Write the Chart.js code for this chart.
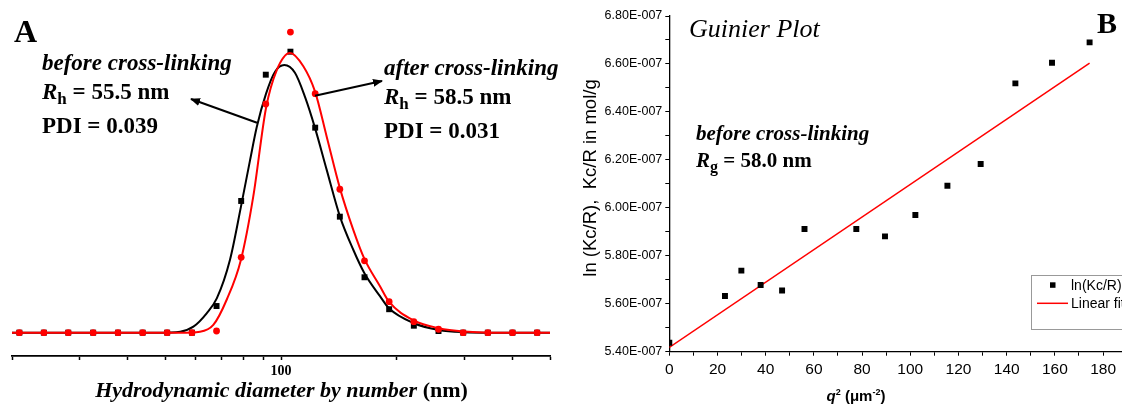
<!DOCTYPE html>
<html>
<head>
<meta charset="utf-8">
<script src="https://cdn.jsdelivr.net/npm/chart.js@4.4.1/dist/chart.umd.min.js"></script>
<style>
  html, body { margin: 0; padding: 0; background: #fff; }
  body { width: 1122px; height: 405px; overflow: hidden; position: relative; }
  #boxA { position: absolute; left: 0; top: 0; width: 560px; height: 405px; }
  #boxB { position: absolute; left: 560px; top: 0; width: 620px; height: 405px; }
  #notes { position: absolute; left: 0; top: 0; pointer-events: none; }
  .serif { font-family: "Liberation Serif", "Times New Roman", serif; }
  .sans { font-family: "Liberation Sans", Arial, sans-serif; }
</style>
</head>
<body>
<div id="boxA"><canvas id="chartA" width="560" height="405"></canvas></div>
<div id="boxB"><canvas id="chartB" width="620" height="405"></canvas></div>

<svg id="notes" width="1122" height="405" xmlns="http://www.w3.org/2000/svg">
  <defs>
    <marker id="head" viewBox="0 0 10 8" refX="9" refY="4" markerWidth="5" markerHeight="4" orient="auto" markerUnits="strokeWidth">
      <path d="M0,0 L10,4 L0,8 z" fill="#000"/>
    </marker>
  </defs>

  <!-- panel A -->
  <text class="serif" x="14" y="42" font-size="32" font-weight="bold">A</text>
  <g class="serif" font-size="23" font-weight="bold">
    <text x="42" y="70" font-style="italic">before cross-linking</text>
    <text x="42" y="99"><tspan font-style="italic">R</tspan><tspan dy="5" font-size="17">h</tspan><tspan dy="-5"> = 55.5 nm</tspan></text>
    <text x="42" y="133">PDI = 0.039</text>
    <text x="384" y="75" font-style="italic">after cross-linking</text>
    <text x="384" y="104"><tspan font-style="italic">R</tspan><tspan dy="5" font-size="17">h</tspan><tspan dy="-5"> = 58.5 nm</tspan></text>
    <text x="384" y="138">PDI = 0.031</text>
  </g>
  <line x1="257" y1="122.7" x2="191" y2="99" stroke="#000" stroke-width="2" marker-end="url(#head)"/>
  <line x1="315" y1="95.7" x2="382" y2="81" stroke="#000" stroke-width="2" marker-end="url(#head)"/>
  <text class="serif" x="281.5" y="397" font-size="22" font-weight="bold" text-anchor="middle"><tspan font-style="italic">Hydrodynamic diameter by number</tspan> (nm)</text>

  <!-- panel B -->
  <text class="serif" x="689" y="37" font-size="26" font-style="italic">Guinier Plot</text>
  <text class="serif" x="1097" y="33" font-size="30" font-weight="bold">B</text>
  <g class="serif" font-size="21" font-weight="bold">
    <text x="696" y="140" font-style="italic">before cross-linking</text>
    <text x="696" y="167"><tspan font-style="italic">R</tspan><tspan dy="5" font-size="16">g</tspan><tspan dy="-5"> = 58.0 nm</tspan></text>
  </g>
  <text class="sans" font-size="18.5" text-anchor="middle" style="white-space:pre"
        transform="translate(596,178) rotate(-90)">ln (Kc/R),  Kc/R in mol/g</text>
  <text class="sans" x="856" y="401" font-size="15" font-weight="bold" text-anchor="middle"><tspan font-style="italic">q</tspan><tspan dy="-6" font-size="9">2</tspan><tspan dy="6"> (μm</tspan><tspan dy="-6" font-size="9">-2</tspan><tspan dy="6">)</tspan></text>

  <!-- legend B -->
  <rect x="1031.5" y="275.5" width="120" height="54" fill="#fff" stroke="#999" stroke-width="1"/>
  <rect x="1050" y="282.3" width="5.5" height="5.5" fill="#000"/>
  <text class="sans" x="1071" y="290" font-size="14">ln(Kc/R)</text>
  <line x1="1037" y1="303.3" x2="1068" y2="303.3" stroke="#f00" stroke-width="1.5"/>
  <text class="sans" x="1071" y="308" font-size="14">Linear fit</text>
</svg>

<script>
// panel A: number distribution (DLS), % per size bin
const binDiam = [20.9, 24.2, 28.0, 32.5, 37.7, 43.7, 50.6, 58.7, 68.0, 78.8, 91.3,
                 105.8, 122.7, 142.2, 164.8, 191.0, 221.4, 256.6, 297.4, 344.7, 399.5, 463.0];
const beforeNum = [0, 0, 0, 0, 0, 0, 0, 0, 2.41, 11.91, 23.33, 25.41, 18.54, 10.49, 5.01, 2.12, 0.63, 0.15, 0, 0, 0, 0];
const afterNum  = [0, 0, 0, 0, 0, 0, 0, 0, 0.15, 6.81, 20.68, 27.18, 21.61, 12.97, 6.50, 2.80, 0.99, 0.31, 0, 0, 0, 0];

// fitted curves
const beforeFitD = [20, 48, 54.7, 59.2, 64.1, 68.1, 73.7, 78.7, 83.1, 86.5, 91.4, 96.5, 102.0, 108.7,
                    115.5, 122.6, 131.5, 142.3, 154.1, 164.6, 180.8, 190.8, 221.6, 257.3, 298.8, 350, 500];
const beforeFitY = [0, 0, 0.09, 0.54, 1.75, 3.1, 6.6, 11.4, 15.6, 18.6, 21.6, 23.6, 24.2, 23.5,
                    21.3, 18.5, 14.7, 10.5, 7.5, 5.4, 3.3, 2.2, 0.85, 0.24, 0.04, 0, 0];
const afterFitD = [20, 54.7, 61.6, 66.7, 72.3, 78.7, 84.7, 91.4, 97.5, 105.5, 114.3, 122.6,
                   131.5, 142.3, 154.1, 164.6, 180.8, 190.8, 221.6, 257.3, 298.8, 350, 500];
const afterFitY = [0, 0, 0.09, 0.7, 3.0, 6.6, 12.3, 20.3, 23.75, 25.3, 24.1, 21.8,
                   17.7, 13.05, 9.3, 6.7, 4.2, 2.8, 1.1, 0.4, 0.1, 0, 0];
const diamTicks = [20, 30, 40, 50, 60, 70, 80, 90, 100, 200, 300, 400, 500];

// panel B: Guinier plot
const q2 = [0, 23.1, 29.9, 37.9, 46.8, 56.1, 77.6, 89.5, 102.1, 115.4, 129.2, 143.6, 158.8, 174.4];
const lnKcR = [5.437e-7, 5.632e-7, 5.738e-7, 5.678e-7, 5.655e-7, 5.912e-7, 5.912e-7, 5.881e-7,
               5.970e-7, 6.092e-7, 6.183e-7, 6.519e-7, 6.605e-7, 6.690e-7];
const fitQ2 = [0, 174.4];
const fitLn = [5.418e-7, 6.603e-7];
const q2Ticks = [0, 10, 20, 30, 40, 50, 60, 70, 80, 90, 100, 110, 120, 130, 140, 150, 160, 170, 180, 190, 200];
const lnTicks = [5.4e-7, 5.5e-7, 5.6e-7, 5.7e-7, 5.8e-7, 5.9e-7, 6.0e-7, 6.1e-7,
                 6.2e-7, 6.3e-7, 6.4e-7, 6.5e-7, 6.6e-7, 6.7e-7, 6.8e-7];

const SERIF = '"Liberation Serif", "Times New Roman", serif';
const SANS = '"Liberation Sans", Arial, sans-serif';

function pairs(xs, ys) {
    return xs.map((x, i) => ({ x: x, y: ys[i] }));
}

function originLabel(v) {
    const parts = v.toExponential(2).split('e');
    const exp = parseInt(parts[1], 10);
    return parts[0] + 'E' + (exp < 0 ? '-' : '+') + String(Math.abs(exp)).padStart(3, '0');
}

Chart.defaults.animation = false;
Chart.defaults.color = '#000';

new Chart(document.getElementById('chartA'), {
    type: 'scatter',
    data: {
        datasets: [
            {
                data: pairs(afterFitD, afterFitY), showLine: true, borderColor: '#ff0000',
                borderWidth: 2, pointRadius: 0, cubicInterpolationMode: 'monotone', order: 1
            },
            {
                data: pairs(binDiam, afterNum), pointStyle: 'circle', pointRadius: 3.4,
                backgroundColor: '#ff0000', borderWidth: 0, order: 0
            },
            {
                data: pairs(beforeFitD, beforeFitY), showLine: true, borderColor: '#000',
                borderWidth: 2, pointRadius: 0, cubicInterpolationMode: 'monotone', order: 3
            },
            {
                data: pairs(binDiam, beforeNum), pointStyle: 'rect', pointRadius: 4.2,
                backgroundColor: '#000', borderWidth: 0, order: 2
            }
        ]
    },
    options: {
        responsive: false,
        devicePixelRatio: 1,
        layout: { padding: { left: 12, right: 10, top: 10, bottom: 0 } },
        plugins: { legend: { display: false }, tooltip: { enabled: false } },
        scales: {
            x: {
                type: 'logarithmic', min: 20, max: 500,
                afterBuildTicks: s => { s.ticks = diamTicks.map(v => ({ value: v })); },
                afterFit: s => { s.height = 49; },
                ticks: {
                    callback: v => (v === 100 ? '100' : ''),
                    autoSkip: false, maxRotation: 0, padding: 3,
                    font: { family: SERIF, size: 14, weight: 'bold' }
                },
                grid: { drawOnChartArea: false, tickLength: 4, tickWidth: 1.5, tickColor: '#000' },
                border: { color: '#000', width: 1.8 }
            },
            y: { display: false, min: -2.11, max: 29.18 }
        }
    }
});

new Chart(document.getElementById('chartB'), {
    type: 'scatter',
    data: {
        datasets: [
            {
                data: pairs(fitQ2, fitLn), showLine: true, borderColor: '#ff0000',
                borderWidth: 1.5, pointRadius: 0, order: 1
            },
            {
                data: pairs(q2, lnKcR), pointStyle: 'rect', pointRadius: 4.2,
                backgroundColor: '#000', borderWidth: 0, order: 0
            }
        ]
    },
    options: {
        responsive: false,
        devicePixelRatio: 1,
        layout: { padding: { left: 0, right: 28.7, top: 16, bottom: 0 } },
        plugins: { legend: { display: false }, tooltip: { enabled: false } },
        scales: {
            x: {
                type: 'linear', min: 0, max: 200,
                afterBuildTicks: s => { s.ticks = q2Ticks.map(v => ({ value: v })); },
                afterFit: s => { s.height = 53.3; },
                ticks: {
                    callback: v => (v % 20 === 0 ? String(v) : ''),
                    autoSkip: false, maxRotation: 0, padding: 5,
                    font: { family: SANS, size: 15.5 }
                },
                grid: { drawOnChartArea: false, tickLength: 4, tickColor: '#000' },
                border: { color: '#000', width: 1.3 }
            },
            y: {
                min: 5.4e-7, max: 6.8e-7,
                afterBuildTicks: s => { s.ticks = lnTicks.map(v => ({ value: v })); },
                afterFit: s => { s.width = 109.3; },
                ticks: {
                    callback: v => (Math.round(v * 1e8) % 2 === 0 ? originLabel(v) : ''),
                    autoSkip: false, padding: 3,
                    font: { family: SANS, size: 12.5 }
                },
                grid: { drawOnChartArea: false, tickLength: 4, tickColor: '#000' },
                border: { color: '#000', width: 1.3 }
            }
        }
    }
});
</script>
</body>
</html>
